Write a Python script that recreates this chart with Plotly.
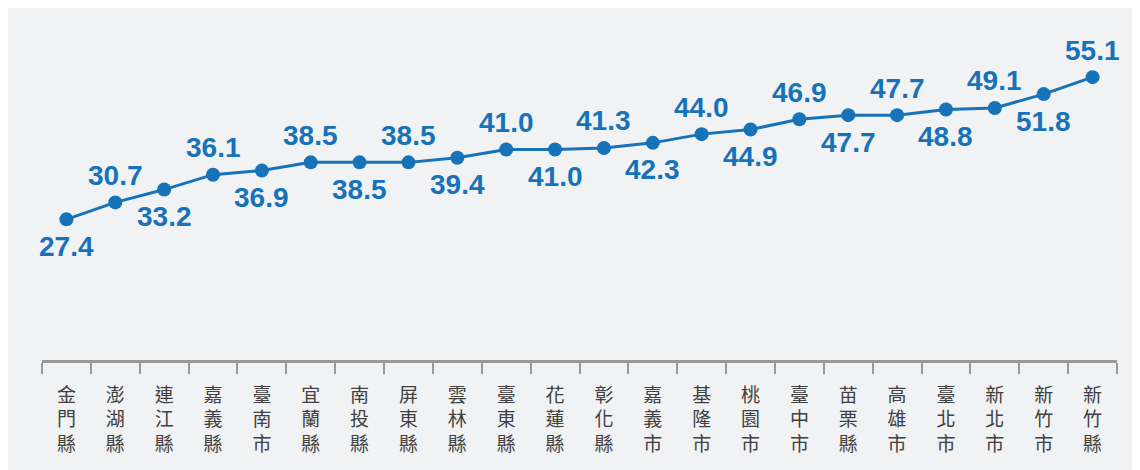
import plotly.graph_objects as go

counties = ["金門縣", "澎湖縣", "連江縣", "嘉義縣", "臺南市", "宜蘭縣", "南投縣", "屏東縣",
            "雲林縣", "臺東縣", "花蓮縣", "彰化縣", "嘉義市", "基隆市", "桃園市", "臺中市",
            "苗栗縣", "高雄市", "臺北市", "新北市", "新竹市", "新竹縣"]
values = [27.4, 30.7, 33.2, 36.1, 36.9, 38.5, 38.5, 38.5, 39.4, 41.0, 41.0, 41.3,
          42.3, 44.0, 44.9, 46.9, 47.7, 47.7, 48.8, 49.1, 51.8, 55.1]

BLUE = "#1672b9"
tick_text = ["<br>".join(list(c)) for c in counties]

fig = go.Figure()
fig.add_trace(go.Scatter(
    x=counties, y=values, mode="lines+markers",
    line=dict(color=BLUE, width=3),
    marker=dict(color=BLUE, size=14),
    hoverinfo="skip", showlegend=False,
))

for i, (c, v) in enumerate(zip(counties, values)):
    above = (i % 2 == 1)
    fig.add_annotation(
        x=c, y=v, text=f"{v:.1f}", showarrow=False,
        yshift=27 if above else -27,
        font=dict(family="Liberation Sans, Arial", size=28, color=BLUE, weight="bold"),
    )

fig.update_layout(
    width=1140, height=470,
    margin=dict(l=34, r=31, t=44, b=118),
    paper_bgcolor="#f1f2f4", plot_bgcolor="#f1f2f4",
    xaxis=dict(
        type="category", tickmode="array", tickvals=counties, ticktext=tick_text,
        tickson="boundaries", ticks="outside", ticklen=11, tickcolor="#999999", tickwidth=1.5,
        showline=True, linecolor="#999999", linewidth=2.5, showgrid=False,
        tickfont=dict(family="Noto Sans CJK TC", size=19, color="#404040"),
        tickangle=0, ticklabelstandoff=16, range=[-0.5, len(counties) - 0.5],
    ),
    yaxis=dict(range=[0, 60], visible=False, showgrid=False, zeroline=False),
)

fig.write_html("out.html")
